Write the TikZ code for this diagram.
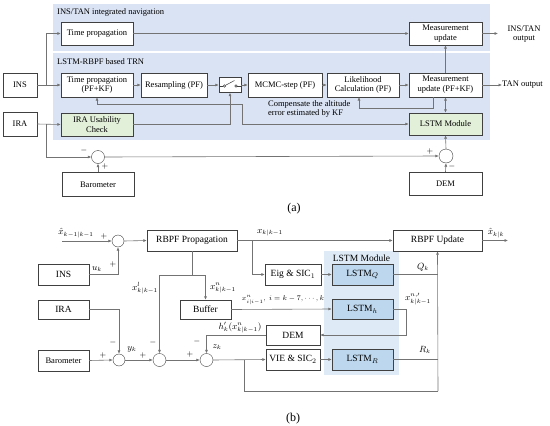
\documentclass[tikz,border=0pt]{standalone}
\usepackage{fontspec}
\setmainfont{Liberation Serif}
\usetikzlibrary{arrows.meta,calc}
\definecolor{panelblue}{HTML}{DAE3F3}
\definecolor{boxgreen}{HTML}{E2F0D9}
\definecolor{lstmbg}{HTML}{DEEBF7}
\definecolor{lstmbox}{HTML}{BDD7EE}
\begin{document}
\begin{tikzpicture}[x=1pt,y=-1pt,
  box/.style={draw=black!75,fill=white,inner sep=0pt,align=center,font=\fontsize{8.5}{9.8}\selectfont},
  bbox/.style={draw=black!75,fill=white,inner sep=0pt,align=center,font=\fontsize{9.5}{11}\selectfont},
  sz/.style 2 args={minimum width=#1pt,minimum height=#2pt},
  ln/.style={draw=black!55,line width=0.6pt},
  arr/.style={ln,-{Latex[length=3.5pt,width=3pt]}},
  darr/.style={ln,{Latex[length=3.5pt,width=3pt]}-{Latex[length=3.5pt,width=3pt]}},
  sumc/.style={circle,draw=black!75,fill=white,minimum size=13pt,inner sep=0pt},
  sgn/.style={font=\fontsize{8}{8}\selectfont,inner sep=0pt},
  lbl/.style={font=\fontsize{8.5}{9.8}\selectfont,inner sep=0pt},
  mlbl/.style={font=\fontsize{9}{10}\selectfont,inner sep=0pt},
]
\useasboundingbox (0,0) rectangle (550,426);
\fill[white] (0,0) rectangle (550,426);

% ---------------- (a) ----------------
\fill[panelblue] (53,4) rectangle (490,51);
\fill[panelblue] (53,53) rectangle (490,140);
\node[lbl,anchor=west] (t1) at (57,12) {INS/TAN integrated navigation};
\node[lbl,anchor=west] (t2) at (57,62) {LSTM-RBPF based TRN};

\node[box,sz={34}{24}] (ins) at (20,85) {INS};
\node[box,sz={34}{24}] (ira) at (20,124) {IRA};
\node[box,sz={72}{23}] (tp1) at (97,33.5) {Time propagation};
\node[box,sz={72}{24}] (tp2) at (97,85) {Time propagation\\(PF+KF)};
\node[box,sz={66}{24}] (rs) at (174,85) {Resampling (PF)};
\node[box,sz={22}{15}] (sw) at (230,85) {};
\node[box,sz={74}{24}] (mcmc) at (285,85) {MCMC-step (PF)};
\node[box,sz={72}{24}] (lik) at (363,85) {Likelihood\\Calculation (PF)};
\node[box,sz={73}{24}] (mu2) at (445.5,85) {Measurement\\update (PF+KF)};
\node[box,sz={73}{23}] (mu1) at (445.5,33.5) {Measurement\\update};
\node[box,sz={73}{22},fill=boxgreen] (lstm) at (445.5,124) {LSTM Module};
\node[box,sz={72}{23},fill=boxgreen] (irac) at (97,124.5) {IRA Usability\\Check};
\node[lbl,align=center] (out1) at (524,34) {INS/TAN\\output};
\node[lbl,anchor=west] (out2) at (502,85) {TAN output};
\node[lbl,align=left,anchor=west] (comp) at (268,109) {Compensate the altitude\\error estimated by KF};
\node[sumc] (s1) at (98,157) {};
\node[sumc,minimum size=14pt] (s2) at (446,156) {};
\node[box,sz={72}{24}] (baro) at (98,184.5) {Barometer};
\node[box,sz={73}{23}] (dem) at (445.5,183.5) {DEM};
\node[font=\fontsize{12}{12}\selectfont] (capa) at (294,209) {(a)};

% switch symbol
\draw[black!75,line width=0.5pt] (sw.west |- 0,86) -- (223.3,86);
\draw[black!75,line width=0.5pt] (224.5,86) circle (1.2);
\draw[black!75,line width=0.5pt] (225.5,85.3) -- (234.5,80.5);
\draw[black!75,line width=0.5pt] (236,86) circle (1.2);
\draw[black!75,line width=0.5pt] (237.2,86) -- (sw.east |- 0,86);

% connectors (a)
\coordinate (insj) at (46,85);
\coordinate (iraj) at (46,124);
\draw[arr] (ins.east) -- (tp2.west);
\draw[arr] (insj) |- (tp1.west);
\draw[arr] (tp1.east) -- (mu1.west);
\draw[arr] (tp2.east) -- (rs.west);
\draw[arr] (rs.east) -- (sw.west);
\draw[arr] (sw.east) -- (mcmc.west);
\draw[arr] (mcmc.east) -- (lik.west);
\draw[arr] (lik.east) -- (mu2.west);
\draw[arr] (mu2.north) -- (mu1.south);
\draw[arr] (mu1.east) -- (498,33.5);
\draw[arr] (mu2.east) -- (out2.west);
\draw[darr] (mu2.south) -- (lstm.north);
\coordinate (fb1) at (433,97);
\coordinate (fb2) at (359,97);
\draw[arr] (fb1) -- ++(0,11) -| (fb2);
\draw[arr] (ira.east) -- (irac.west);
\draw[arr] (irac.east) -| (sw.south);
\coordinate (cp1) at (242,104);
\coordinate (cp2) at (242,124);
\draw[darr] (tp2.south) |- (cp1) -- (cp2) -- (lstm.west);
\draw[arr] (iraj) |- (s1.west);
\draw[arr] (baro.north) -- (s1.south);
\draw[arr] (s1.east) -- (s2.west);
\draw[arr] (dem.north) -- (s2.south);
\draw[arr] (s2.north) -- (lstm.south);
\node[sgn] at (84,150) {$-$};
\node[sgn] at (105,166) {$+$};
\node[sgn] at (430,151) {$+$};
\node[sgn] at (452,166) {$-$};

% ---------------- (b) ----------------
\fill[lstmbg] (324,251) rectangle (399,375);
\node[bbox,draw=none,fill=none] (lmt) at (361.5,258) {LSTM Module};

\coordinate (xin) at (62,241);
\node[mlbl] (xinl) at (76,233) {$\hat{x}_{k-1|k-1}$};
\node[sumc,minimum size=12pt] (c0) at (118,241) {};
\node[bbox,sz={90}{21}] (rbp) at (192,240.5) {RBPF Propagation};
\node[bbox,sz={51}{21}] (insb) at (63.5,274.5) {INS};
\node[bbox,sz={89}{21}] (rbu) at (437.5,240.5) {RBPF Update};
\node[bbox,sz={56}{21}] (eig) at (293,274.5) {Eig \& SIC$_1$};
\node[bbox,sz={61}{21},fill=lstmbox] (lq) at (362.5,274.5) {LSTM$_Q$};
\node[bbox,sz={61}{20},fill=lstmbox] (lh) at (362.5,309) {LSTM$_h$};
\node[bbox,sz={61}{21},fill=lstmbox] (lr) at (362.5,359.5) {LSTM$_R$};
\node[bbox,sz={51}{19}] (buf) at (205.5,309.5) {Buffer};
\node[bbox,sz={51}{19}] (irab) at (63.5,309.5) {IRA};
\node[bbox,sz={54}{20}] (demb) at (293,335) {DEM};
\node[bbox,sz={54}{21}] (vie) at (293,359.5) {VIE \& SIC$_2$};
\node[bbox,sz={51}{21},font=\fontsize{8.5}{10}\selectfont] (barob) at (63.5,360.5) {Barometer};
\node[sumc,minimum size=12pt] (c1) at (119,360) {};
\node[sumc] (c2) at (159.5,360) {};
\node[sumc] (c3) at (206.5,360) {};
\node[font=\fontsize{12}{12}\selectfont] (capb) at (293,419) {(b)};

\coordinate (xout) at (508,240.5);
\coordinate (eigj) at (252,240.5);
\coordinate (pj) at (192,275);
\coordinate (pl) at (159.5,275);
\coordinate (pr) at (205.5,275);
\coordinate (qj) at (438,274.5);
\coordinate (rj) at (438,359.5);
\coordinate (bj) at (438,391);
\coordinate (lj) at (244,360);
\coordinate (hj) at (406,309);

\draw[arr] (xin) -- (c0.west);
\draw[arr] (insb.east) -| (c0.south);
\draw[arr] (c0.east) -- (rbp.west);
\draw[arr] (rbp.east) -- (rbu.west);
\draw[arr] (rbu.east) -- (xout);
\draw[arr] (eigj) |- (eig.west);
\draw[arr] (eig.east) -- (lq.west);
\draw[ln] (lq.east) -- (qj);
\draw[ln] (lr.east) -- (rj);
\draw[arr] (bj) -- (rbu.south);
\draw[ln] (lj) |- (bj);
\draw[ln] (rbp.south) -- (pj);
\draw[ln] (pl) -- (pr);
\draw[arr] (pr) -- (buf.north);
\draw[arr] (pl) -- (c2.north);
\draw[arr] (buf.east) -- (lh.west);
\draw[arr] (irab.east) -| (c1.north);
\draw[arr] (barob.east) -- (c1.west);
\draw[arr] (c1.east) -- (c2.west);
\draw[arr] (c2.east) -- (c3.west);
\draw[arr] (c3.east) -- (vie.west);
\draw[arr] (vie.east) -- (lr.west);
\draw[arr] (lh.east) -- (hj) |- (demb.east);
\draw[arr] (demb.west) -| (c3.north);

\node[mlbl] at (270,233) {$x_{k|k-1}$};
\node[mlbl] at (496,233) {$\hat{x}_{k|k}$};
\node[mlbl] at (97,269) {$u_k$};
\node[sgn] at (113,264) {$+$};
\node[sgn] at (104,236) {$+$};
\node[mlbl] at (145,288) {$x^{l}_{k|k-1}$};
\node[mlbl] at (223,288) {$x^{n}_{k|k-1}$};
\node[mlbl,font=\fontsize{7.5}{8}\selectfont] at (283,300) {$x^{n}_{i|i-1},\ i=k-7,\cdots,k$};
\node[mlbl] at (418,299) {$x^{n,\prime}_{k|k-1}$};
\node[mlbl] at (240,327.5) {$h^{\prime}_k(x^{n}_{k|k-1})$};
\node[mlbl] at (423,267) {$Q_k$};
\node[mlbl] at (425,350) {$R_k$};
\node[mlbl] at (132,349) {$y_k$};
\node[mlbl] at (217,347) {$z_k$};
\node[sgn] at (103,355) {$+$};
\node[sgn] at (113,342) {$-$};
\node[sgn] at (143,355) {$+$};
\node[sgn] at (153,342) {$-$};
\node[sgn] at (190,354) {$+$};
\node[sgn] at (197,341) {$-$};
\end{tikzpicture}
\end{document}
